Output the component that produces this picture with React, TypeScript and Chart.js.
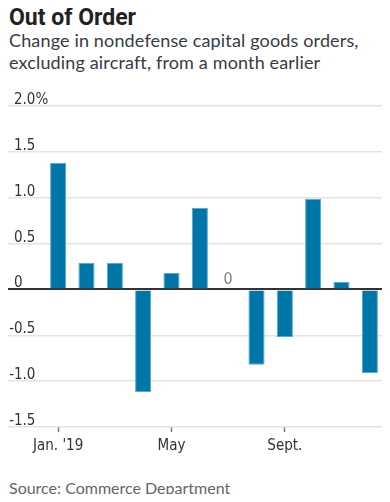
import React, { useEffect, useRef } from "react";
import { Chart, registerables } from "chart.js";

Chart.register(...registerables);

const months = ["Jan. '19", "Feb.", "March", "April", "May", "June", "July", "Aug.", "Sept.", "Oct.", "Nov.", "Dec."];
const shownMonths = ["Jan. '19", "May", "Sept."];
const changes = [1.38, 0.29, 0.29, -1.12, 0.18, 0.89, 0, -0.82, -0.52, 0.99, 0.08, -0.91];
const yTickValues = [-1.5, -1.0, -0.5, 0, 0.5, 1.0, 1.5, 2.0];
const yTickLabels = ["-1.5", "-1.0", "-0.5", "0", "0.5", "1.0", "1.5", "2.0%"];

const NARROW = "'Liberation Sans Narrow', 'DejaVu Sans Condensed', sans-serif";
const SANS = "Lato, 'Noto Sans', sans-serif";

const labelPlugin = {
  id: "customLabels",
  afterDraw(chart: any) {
    const { ctx } = chart;
    const x = chart.scales.x;
    const y = chart.scales.y;
    ctx.save();
    ctx.textBaseline = "alphabetic";
    // y-axis tick labels, left-aligned with a hanging minus sign
    ctx.font = `15px ${NARROW}`;
    ctx.fillStyle = "#333";
    ctx.textAlign = "left";
    const minusW = ctx.measureText("-").width;
    const labelX = y.left;
    yTickValues.forEach((v, i) => {
      const txt = yTickLabels[i];
      const px = y.getPixelForValue(v);
      ctx.fillText(txt, txt.startsWith("-") ? labelX - minusW : labelX, px - 2);
    });
    // zero-value label
    ctx.font = `16px ${NARROW}`;
    ctx.fillStyle = "#808080";
    ctx.textAlign = "center";
    changes.forEach((v, i) => {
      if (v === 0) ctx.fillText("0", x.getPixelForValue(i), y.getPixelForValue(0) - 5);
    });
    ctx.restore();
  },
};

export default function App() {
  const ref = useRef<HTMLCanvasElement | null>(null);

  useEffect(() => {
    if (!ref.current) return;
    const chart = new Chart(ref.current, {
      type: "bar",
      data: {
        labels: months,
        datasets: [
          {
            data: changes,
            backgroundColor: "#0076a8",
            borderColor: "#5aa6cc",
            borderWidth: 1,
            categoryPercentage: 1,
            barPercentage: 0.57,
          },
        ],
      },
      options: {
        animation: false,
        responsive: false,
        maintainAspectRatio: false,
        layout: { padding: { left: 6, top: 26, right: 0, bottom: 0 } },
        plugins: { legend: { display: false }, tooltip: { enabled: false } },
        scales: {
          x: {
            offset: true,
            border: { display: false },
            grid: {
              offset: false,
              drawOnChartArea: false,
              drawTicks: true,
              tickLength: 5,
              tickWidth: 1.5,
              tickColor: (c: any) => (shownMonths.includes(months[c.index]) ? "#777" : "rgba(0,0,0,0)"),
            },
            ticks: {
              autoSkip: false,
              maxRotation: 0,
              padding: 5,
              color: "#333",
              font: { family: NARROW, size: 15 },
              callback: (_v: any, i: number) => (shownMonths.includes(months[i]) ? months[i] : ""),
            },
            afterFit: (s: any) => {
              s.height = 33;
            },
          },
          y: {
            min: -1.5,
            max: 2.0,
            border: { display: false },
            afterBuildTicks: (s: any) => {
              s.ticks = yTickValues.map((v) => ({ value: v }));
            },
            afterFit: (s: any) => {
              s.width = 30;
            },
            grid: {
              color: (c: any) => (c.tick && c.tick.value === 0 ? "#333" : "#e3e3e3"),
              lineWidth: (c: any) => (c.tick && c.tick.value === 0 ? 2 : 1.5),
              tickLength: 36,
            },
            ticks: { display: false },
          },
        },
      },
      plugins: [labelPlugin],
    } as any);
    return () => chart.destroy();
  }, []);

  return (
    <div style={{ position: "relative", width: 374, height: 486, fontFamily: SANS }}>
      <div
        style={{
          position: "absolute",
          left: 1,
          top: -3,
          fontFamily: "Roboto, 'Noto Sans', sans-serif",
          fontSize: 23,
          fontWeight: 700,
          color: "#222",
          lineHeight: "26px",
          whiteSpace: "nowrap",
        }}
      >
        Out of Order
      </div>
      <div
        style={{
          position: "absolute",
          left: 1,
          top: 21,
          fontSize: 18,
          letterSpacing: 0.15,
          color: "#3a3a44",
          lineHeight: "22px",
          whiteSpace: "nowrap",
        }}
      >
        Change in nondefense capital goods orders,
        <br />
        excluding aircraft, from a month earlier
      </div>
      <canvas
        ref={ref}
        width={376}
        height={380}
        style={{ position: "absolute", left: 0, top: 72, width: 376, height: 380 }}
      />
      <div
        style={{
          position: "absolute",
          left: 1,
          top: 470,
          fontSize: 16,
          color: "#666",
          lineHeight: "20px",
          whiteSpace: "nowrap",
        }}
      >
        Source: Commerce Department
      </div>
    </div>
  );
}
